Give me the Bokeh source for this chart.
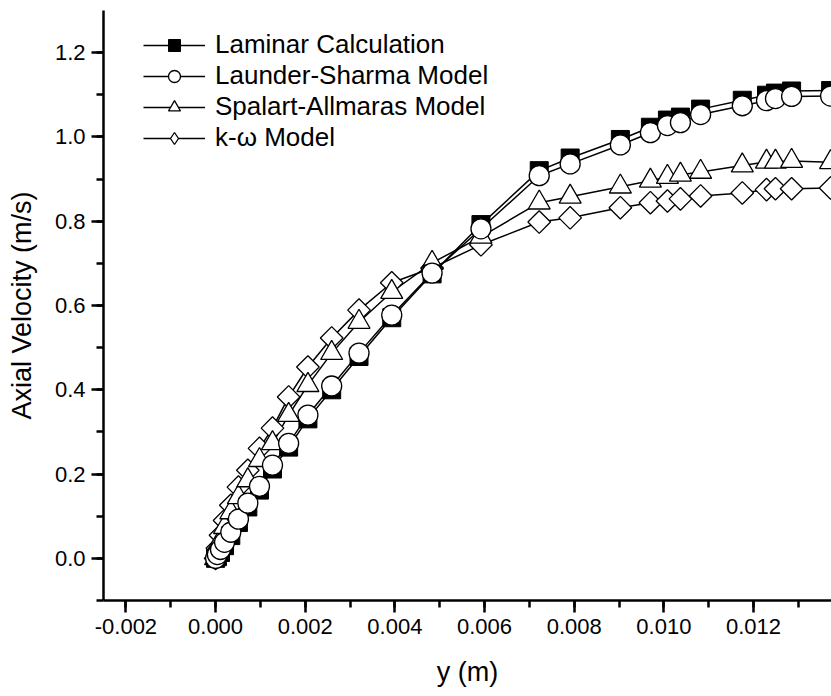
from bokeh.plotting import figure
from bokeh.models import SingleIntervalTicker, NumeralTickFormatter, Range1d, Legend
from bokeh.embed import file_html
from bokeh.resources import INLINE
import numpy as np

# ---- data ----
y_pos = [0, 0.00004, 0.00011, 0.0002, 0.00034, 0.00051, 0.00072, 0.00098, 0.00127,
         0.00163, 0.00206, 0.00259, 0.0032, 0.00393, 0.00483, 0.00592, 0.00722,
         0.00791, 0.00903, 0.0097, 0.01008, 0.01037, 0.01082, 0.01175, 0.01229,
         0.01249, 0.01285, 0.01372]

laminar = [0, 0.004, 0.014, 0.030, 0.054, 0.085, 0.122, 0.162, 0.212, 0.264, 0.331,
           0.400, 0.479, 0.571, 0.675, 0.792, 0.920, 0.950, 0.994, 1.023, 1.040,
           1.047, 1.066, 1.087, 1.099, 1.104, 1.109, 1.110]

launder_sharma = [0, 0.009, 0.021, 0.038, 0.062, 0.093, 0.131, 0.171, 0.221, 0.273,
                  0.340, 0.409, 0.487, 0.577, 0.677, 0.782, 0.908, 0.936, 0.981, 1.010,
                  1.027, 1.034, 1.053, 1.074, 1.086, 1.091, 1.096, 1.097]

spalart_allmaras = [0, 0.019, 0.043, 0.074, 0.109, 0.145, 0.185, 0.233, 0.273, 0.340,
                    0.411, 0.487, 0.561, 0.632, 0.701, 0.763, 0.844, 0.858, 0.882,
                    0.896, 0.905, 0.910, 0.917, 0.932, 0.941, 0.941, 0.943, 0.940]

k_omega = [0, 0.024, 0.055, 0.090, 0.126, 0.169, 0.209, 0.261, 0.309, 0.383, 0.454,
           0.523, 0.589, 0.654, 0.689, 0.744, 0.798, 0.808, 0.832, 0.844, 0.848,
           0.853, 0.860, 0.867, 0.875, 0.877, 0.877, 0.879]

series_labels = ["Laminar Calculation", "Launder-Sharma Model",
                 "Spalart-Allmaras Model", "k-\u03c9 Model"]

FONT = "Liberation Sans"

p = figure(frame_width=728, frame_height=590,
           min_border_left=103, min_border_right=0, min_border_top=10, min_border_bottom=96,
           x_range=Range1d(-0.0025, 0.01374), y_range=Range1d(-0.1, 1.3),
           output_backend="svg", toolbar_location=None,
           x_axis_label="y (m)", y_axis_label="Axial Velocity (m/s)")

p.outline_line_color = None
p.xgrid.visible = False
p.ygrid.visible = False
p.background_fill_color = "white"
p.border_fill_color = "white"

p.xaxis.ticker = SingleIntervalTicker(interval=0.002, num_minor_ticks=2)
p.yaxis.ticker = SingleIntervalTicker(interval=0.2, num_minor_ticks=2)
p.xaxis.formatter = NumeralTickFormatter(format="0.000")
p.yaxis.formatter = NumeralTickFormatter(format="0.0")

for ax in (p.xaxis, p.yaxis):
    ax.axis_line_width = 2.5
    ax.axis_line_color = "black"
    ax.major_tick_line_width = 2.5
    ax.minor_tick_line_width = 2.5
    ax.major_tick_line_color = "black"
    ax.minor_tick_line_color = "black"
    ax.major_tick_in = 0
    ax.major_tick_out = 12
    ax.minor_tick_in = 0
    ax.minor_tick_out = 7
    ax.major_label_text_font = FONT
    ax.major_label_text_font_size = "22px"
    ax.major_label_text_color = "black"
    ax.axis_label_text_font = FONT
    ax.axis_label_text_font_size = "27px"
    ax.axis_label_text_font_style = "normal"
    ax.axis_label_text_color = "black"

p.xaxis.major_label_standoff = 6
p.xaxis.axis_label_standoff = 20
p.yaxis.major_label_standoff = 6
p.yaxis.axis_label_standoff = 15

lw = 1.5
# connecting lines first
l_lam = p.line(y_pos, laminar, line_color="black", line_width=lw)
l_ls = p.line(y_pos, launder_sharma, line_color="black", line_width=lw)
l_sa = p.line(y_pos, spalart_allmaras, line_color="black", line_width=lw)
l_kw = p.line(y_pos, k_omega, line_color="black", line_width=lw)

# diamond glyph used for the legend key (hidden under the rotated squares)
m_kw_leg = p.scatter(y_pos, k_omega, marker="diamond", size=20,
                     fill_color="white", line_color="black", line_width=1.3)
# markers
m_kw = p.scatter(y_pos, k_omega, marker="square", angle=np.pi / 4, size=16,
                 fill_color="white", line_color="black", line_width=1.3)
m_sa = p.scatter(y_pos, spalart_allmaras, marker="triangle", size=22,
                 fill_color="white", line_color="black", line_width=1.3)
m_lam = p.scatter(y_pos, laminar, marker="square", size=18,
                  fill_color="black", line_color="black", line_width=1.0)
m_ls = p.scatter(y_pos, launder_sharma, marker="circle", size=20,
                 fill_color="white", line_color="black", line_width=1.3)

legend = Legend(items=[
    (series_labels[0], [l_lam, m_lam]),
    (series_labels[1], [l_ls, m_ls]),
    (series_labels[2], [l_sa, m_sa]),
    (series_labels[3], [l_kw, m_kw_leg]),
], location=(40, 447))
legend.background_fill_alpha = 0
legend.border_line_alpha = 0
legend.padding = 0
legend.margin = 0
legend.spacing = 0
legend.glyph_width = 62
legend.glyph_height = 30
legend.label_height = 29
legend.label_standoff = 10
legend.label_text_font = FONT
legend.label_text_font_size = "26px"
legend.label_text_color = "black"
p.add_layout(legend)

open("out.html", "w").write(file_html(p, INLINE))
